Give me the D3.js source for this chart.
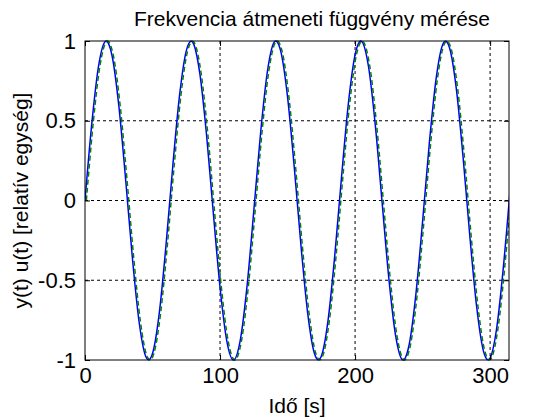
<!DOCTYPE html>
<html><head><meta charset="utf-8">
<script src="https://cdn.jsdelivr.net/npm/d3@7"></script>
<style>body{margin:0;background:#fff}</style></head>
<body><svg id="c" width="560" height="420"></svg>
<script>
const title = "Frekvencia átmeneti függvény mérése";
const xLabel = "Idő [s]";
const yLabel = "y(t) u(t) [relatív egység]";
const xTicks = [0,100,200,300];
const yTicks = [-1,-0.5,0,0.5,1];
const uValues = [0,.479,.841,.997,.909,.598,.141,-.351,-.757,-.978,-.959,-.706,-.279,.215,.657,.938,.989,.798,.412,-.075,-.544,-.880,-1.000,-.875,-.537,-.066,.420,.804,.991,.935,.650,.206,-.288,-.712,-.961,-.976,-.751,-.342,.150,.605,.913,.997,.837,.471,-.009,-.487,-.846,-.998,-.906,-.591,-.132,.360,.763,.980,.956,.700,.271,-.224,-.663,-.941,-.988,-.793,-.404,.084];
const uTimes = uValues.map((_,i)=>i*5);
const yTimes = uValues.map((_,i)=>i*5+1);
const svg = d3.select("#c");
const L=85,R=509,T=41,B=360;
const F="Liberation Sans, Arial";
const x=d3.scaleLinear().domain([0,314]).range([L,R]);
const y=d3.scaleLinear().domain([-1,1]).range([B,T]);
const g=svg.append("g");
g.append("defs").append("clipPath").attr("id","cp").append("rect").attr("x",L).attr("y",T-2).attr("width",R-L).attr("height",B-T+4);
xTicks.forEach(v=>{ if(v>0) g.append("line").attr("x1",x(v)).attr("x2",x(v)).attr("y1",T).attr("y2",B).attr("stroke","#000").attr("stroke-dasharray","3,3");});
yTicks.forEach(v=>{ if(v>-1&&v<1) g.append("line").attr("x1",L).attr("x2",R).attr("y1",y(v)).attr("y2",y(v)).attr("stroke","#000").attr("stroke-dasharray","3,3");});
const line=d3.line().curve(d3.curveCardinal);
const cl=g.append("g").attr("clip-path","url(#cp)");
cl.append("path").attr("d",line(uTimes.map((t,i)=>[x(t),y(uValues[i])]))).attr("fill","none").attr("stroke","#0000ff").attr("stroke-width",1.5);
cl.append("path").attr("d",line(yTimes.map((t,i)=>[x(t),y(uValues[i])]))).attr("fill","none").attr("stroke","#008000").attr("stroke-width",1.5).attr("stroke-dasharray","5,3");
g.append("rect").attr("x",L).attr("y",T).attr("width",R-L).attr("height",B-T).attr("fill","none").attr("stroke","#000");
const xa=g.append("g").attr("transform",`translate(0,${B})`).call(d3.axisBottom(x).tickValues(xTicks).tickSize(-5).tickPadding(7));
const xa2=g.append("g").attr("transform",`translate(0,${T})`).call(d3.axisTop(x).tickValues(xTicks).tickSize(-5).tickFormat(""));
const ya=g.append("g").attr("transform",`translate(${L},0)`).call(d3.axisLeft(y).tickValues(yTicks).tickSize(-5).tickPadding(9).tickFormat(d=>d===0?"0":String(d)));
const ya2=g.append("g").attr("transform",`translate(${R},0)`).call(d3.axisRight(y).tickValues(yTicks).tickSize(-5).tickFormat(""));
[xa,xa2,ya,ya2].forEach(a=>{a.select(".domain").remove();a.selectAll("text").attr("font-family",F).attr("font-size",22).attr("fill","#000");});
svg.append("text").attr("x",(L+R)/2+15).attr("y",26).attr("text-anchor","middle").attr("font-family",F).attr("font-size",21).text(title);
svg.append("text").attr("x",(L+R)/2).attr("y",413).attr("text-anchor","middle").attr("font-family",F).attr("font-size",21).text(xLabel);
svg.append("text").attr("transform",`translate(28,${(T+B)/2}) rotate(-90)`).attr("text-anchor","middle").attr("font-family",F).attr("font-size",21).text(yLabel);
</script></body></html>
